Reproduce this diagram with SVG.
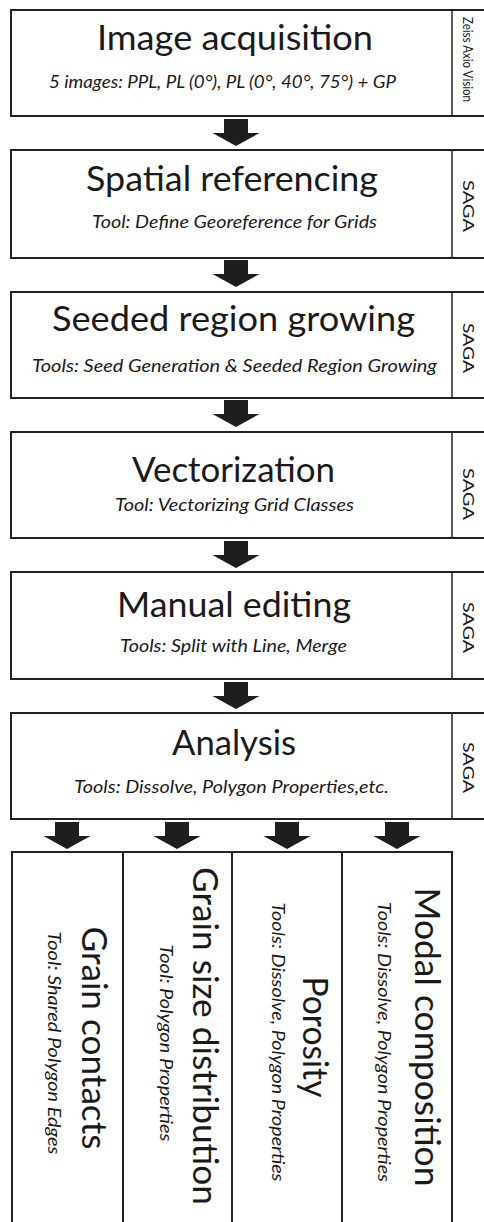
<svg xmlns="http://www.w3.org/2000/svg" xmlns:xlink="http://www.w3.org/1999/xlink" width="484" height="1222" viewBox="0 0 484 1222">
<style>
.box{fill:#fff;stroke:#222;stroke-width:2}
.div{stroke:#222;stroke-width:1.5}
.t{font-family:Lato,"Open Sans","Liberation Sans",sans-serif;font-size:35px;fill:#1a1a1a}
.s{font-family:Lato,"Open Sans","Liberation Sans",sans-serif;font-size:17px;font-style:italic;fill:#1a1a1a}
.side{font-family:Lato,"Open Sans","Liberation Sans",sans-serif;font-size:16px;fill:#1a1a1a}
.arr{fill:#1e1e1e}
</style>
<defs>
<path id="ar" class="arr" d="M-12,-27 H12 V-13 H23.5 L0,0 L-23.5,-13 H-12 Z"/>
</defs>
<rect width="484" height="1222" fill="#fff"/>
<g id="n1">
<rect class="box" x="11" y="10" width="490" height="106"/>
<line class="div" x1="452" y1="10" x2="452" y2="116"/>
<text class="t" x="97" y="50" textLength="276" lengthAdjust="spacingAndGlyphs">Image acquisition</text>
<text class="s" x="49" y="88" textLength="347" lengthAdjust="spacingAndGlyphs">5 images: PPL, PL (0°), PL (0°, 40°, 75°) + GP</text>
<text class="side" style="font-size:13px" transform="translate(463,17) rotate(90)" textLength="85" lengthAdjust="spacingAndGlyphs">Zeiss Axio Vision</text>
</g>
<g id="n2">
<rect class="box" x="11" y="150" width="490" height="108"/>
<line class="div" x1="452" y1="150" x2="452" y2="258"/>
<text class="t" x="86" y="191" textLength="292" lengthAdjust="spacingAndGlyphs">Spatial referencing</text>
<text class="s" x="92" y="228" textLength="285" lengthAdjust="spacingAndGlyphs">Tool: Define Georeference for Grids</text>
<text class="side" transform="translate(463,180) rotate(90)" textLength="52" lengthAdjust="spacingAndGlyphs">SAGA</text>
</g>
<g id="n3">
<rect class="box" x="11" y="292" width="490" height="106"/>
<line class="div" x1="452" y1="292" x2="452" y2="398"/>
<text class="t" x="52" y="331" textLength="363" lengthAdjust="spacingAndGlyphs">Seeded region growing</text>
<text class="s" x="32" y="372" textLength="405" lengthAdjust="spacingAndGlyphs">Tools: Seed Generation &amp; Seeded Region Growing</text>
<text class="side" transform="translate(463,323) rotate(90)" textLength="50" lengthAdjust="spacingAndGlyphs">SAGA</text>
</g>
<g id="n4">
<rect class="box" x="11" y="432" width="490" height="106"/>
<line class="div" x1="452" y1="432" x2="452" y2="538"/>
<text class="t" x="132" y="482" textLength="203" lengthAdjust="spacingAndGlyphs">Vectorization</text>
<text class="s" x="115" y="511" textLength="239" lengthAdjust="spacingAndGlyphs">Tool: Vectorizing Grid Classes</text>
<text class="side" transform="translate(463,468) rotate(90)" textLength="52" lengthAdjust="spacingAndGlyphs">SAGA</text>
</g>
<g id="n5">
<rect class="box" x="11" y="572" width="490" height="107"/>
<line class="div" x1="452" y1="572" x2="452" y2="679"/>
<text class="t" x="117" y="617" textLength="234" lengthAdjust="spacingAndGlyphs">Manual editing</text>
<text class="s" x="120" y="652" textLength="227" lengthAdjust="spacingAndGlyphs">Tools: Split with Line, Merge</text>
<text class="side" transform="translate(463,602) rotate(90)" textLength="51" lengthAdjust="spacingAndGlyphs">SAGA</text>
</g>
<g id="n6">
<rect class="box" x="11" y="713" width="490" height="106"/>
<line class="div" x1="452" y1="713" x2="452" y2="819"/>
<text class="t" x="172" y="755" textLength="124" lengthAdjust="spacingAndGlyphs">Analysis</text>
<text class="s" x="74" y="793" textLength="315" lengthAdjust="spacingAndGlyphs">Tools: Dissolve, Polygon Properties,etc.</text>
<text class="side" transform="translate(463,742) rotate(90)" textLength="51" lengthAdjust="spacingAndGlyphs">SAGA</text>
</g>
<g id="n7">
<rect class="box" x="12" y="852" width="111" height="380"/>
<text class="t" text-anchor="middle" transform="translate(82,1038) rotate(90)" textLength="223" lengthAdjust="spacingAndGlyphs">Grain contacts</text>
<text class="s" text-anchor="middle" transform="translate(48,1043) rotate(90)" textLength="223" lengthAdjust="spacingAndGlyphs">Tool: Shared Polygon Edges</text>
</g>
<g id="n8">
<rect class="box" x="123" y="852" width="109" height="380"/>
<text class="t" text-anchor="middle" transform="translate(193,1036) rotate(90)" textLength="338" lengthAdjust="spacingAndGlyphs">Grain size distribution</text>
<text class="s" text-anchor="middle" transform="translate(160,1043) rotate(90)" textLength="197" lengthAdjust="spacingAndGlyphs">Tool: Polygon Properties</text>
</g>
<g id="n9">
<rect class="box" x="232" y="852" width="110" height="380"/>
<text class="t" text-anchor="middle" transform="translate(303,1037) rotate(90)" textLength="121" lengthAdjust="spacingAndGlyphs">Porosity</text>
<text class="s" text-anchor="middle" transform="translate(272,1042) rotate(90)" textLength="279" lengthAdjust="spacingAndGlyphs">Tools: Dissolve, Polygon Properties</text>
</g>
<g id="n10">
<rect class="box" x="342" y="852" width="110" height="380"/>
<text class="t" text-anchor="middle" transform="translate(415,1037) rotate(90)" textLength="299" lengthAdjust="spacingAndGlyphs">Modal composition</text>
<text class="s" text-anchor="middle" transform="translate(378,1042) rotate(90)" textLength="280" lengthAdjust="spacingAndGlyphs">Tools: Dissolve, Polygon Properties</text>
</g>
<g id="connectors">
<use xlink:href="#ar" x="236" y="146"/>
<use xlink:href="#ar" x="236" y="287"/>
<use xlink:href="#ar" x="236" y="427"/>
<use xlink:href="#ar" x="236" y="568"/>
<use xlink:href="#ar" x="236" y="709"/>
<use xlink:href="#ar" x="67" y="849"/>
<use xlink:href="#ar" x="177" y="849"/>
<use xlink:href="#ar" x="287" y="849"/>
<use xlink:href="#ar" x="397" y="849"/>
</g>
</svg>
